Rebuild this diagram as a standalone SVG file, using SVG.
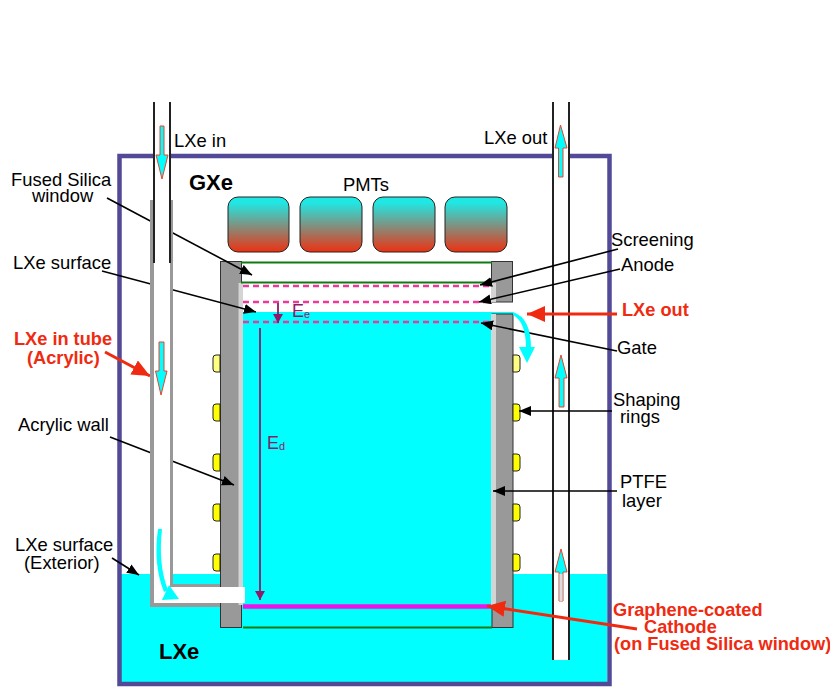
<svg xmlns="http://www.w3.org/2000/svg" width="830" height="690" viewBox="0 0 830 690">
<style>
text{font-family:"Liberation Sans",Arial,sans-serif;font-size:18.400px;fill:#000}
.b{font-weight:bold;font-size:22px}
.r{font-weight:bold;font-size:18.200px;fill:#f02a10}
.e{fill:#8e1a6a;font-size:18px}
.a{stroke:#000;stroke-width:1.600;fill:none;marker-end:url(#k)}
.ar{stroke:#f02a10;stroke-width:3;fill:none;marker-end:url(#rh)}
.g{fill:#999}
.w{fill:#999;stroke:#333;stroke-width:1}
.t{stroke:#222;stroke-width:2;fill:none}
.pm{fill:url(#pg);stroke:#222;stroke-width:1}
.d{stroke:#f0389a;stroke-width:2.500;stroke-dasharray:6 4;fill:none}
.gr{stroke:#0f7a10;stroke-width:2;fill:none}
.y{fill:#ff0;stroke:#222;stroke-width:1}
.ly{fill:#ffff80;stroke:#222;stroke-width:1}
.ba{fill:#0ff;stroke:#f0402a;stroke-width:1}
.m{stroke:#8e1a6a;stroke-width:1.800;fill:none}
</style>
<defs>
<marker id="k" markerWidth="14" markerHeight="12" refX="12" refY="5" orient="auto" markerUnits="userSpaceOnUse"><path d="M0 0L12 5L0 10Z" fill="#000"/></marker>
<marker id="rh" markerWidth="20" markerHeight="18" refX="18" refY="8" orient="auto" markerUnits="userSpaceOnUse"><path d="M0 0L18 8L0 16Z" fill="#f02a10"/></marker>
<marker id="mh" markerWidth="12" markerHeight="12" refX="9" refY="5" orient="auto" markerUnits="userSpaceOnUse"><path d="M0 0L9 5L0 10Z" fill="#8e1a6a"/></marker>
<linearGradient id="pg" x1="0" y1="0" x2="0" y2="1"><stop offset="0.1" stop-color="#1fe8e4"/><stop offset="1" stop-color="#ee3010"/></linearGradient>
</defs>
<g id="vessel">
<rect x="121" y="574" width="486" height="110" fill="#0ff"/>
<rect x="119.500" y="156" width="490" height="528" fill="none" stroke="#524a97" stroke-width="4.500"/>
</g>
<g id="detector">
<rect x="243" y="312" width="248" height="294" fill="#0ff"/>
<rect x="243" y="312" width="270" height="2" fill="#0ff"/>
<rect class="w" x="220.500" y="261.500" width="21" height="366"/>
<rect class="w" x="491.500" y="261.500" width="21" height="40.500"/>
<rect class="w" x="492" y="314" width="21" height="313.500"/>
<rect x="238.500" y="283" width="4.500" height="322" fill="#d4d4d4"/>
<rect x="491" y="283" width="5" height="19" fill="#d4d4d4"/>
<rect x="491" y="314" width="5" height="291" fill="#d4d4d4"/>
<path class="gr" d="M241 262.500H492M241 282.500H492M243 627.500H492"/>
<path d="M243 606.500H491" stroke="#f010e8" stroke-width="4.500" fill="none"/>
<path class="d" d="M243 286H491M243 302H491M243 322H491"/>
</g>
<g id="pmts">
<rect class="pm" x="228" y="197" width="61" height="55" rx="10"/>
<rect class="pm" x="300" y="197" width="62" height="55" rx="10"/>
<rect class="pm" x="373" y="197" width="62" height="55" rx="10"/>
<rect class="pm" x="445" y="197" width="62" height="55" rx="10"/>
</g>
<g id="rings">
<path class="ly" d="M220 355H216Q213 355 213 358V369Q213 372 216 372H220Z"/>
<path class="y" d="M220 404H216Q213 404 213 407V418Q213 421 216 421H220Z"/>
<path class="y" d="M220 454H216Q213 454 213 457V468Q213 471 216 471H220Z"/>
<path class="y" d="M220 504H216Q213 504 213 507V518Q213 521 216 521H220Z"/>
<path class="y" d="M220 554H216Q213 554 213 557V568Q213 571 216 571H220Z"/>
<path class="ly" d="M513 355H517Q520 355 520 358V369Q520 372 517 372H513Z"/>
<path class="y" d="M513 404H517Q520 404 520 407V418Q520 421 517 421H513Z"/>
<path class="y" d="M513 454H517Q520 454 520 457V468Q520 471 517 471H513Z"/>
<path class="y" d="M513 504H517Q520 504 520 507V518Q520 521 517 521H513Z"/>
<path class="y" d="M513 554H517Q520 554 520 557V568Q520 571 517 571H513Z"/>
</g>
<g id="right-tube">
<rect x="553" y="102" width="16" height="558" fill="#fff"/>
<path class="t" d="M553 102V660M569 102V660"/>
</g>
<g id="connectors">
<path class="a" d="M107 198L252 275"/>
<path class="a" d="M102 271L256 312"/>
<path class="a" d="M110 437L234 485"/>
<path class="a" d="M112 558L139 575"/>
<path class="ar" d="M105 352L150 376"/>
<path class="a" d="M618 249L480 285"/>
<path class="a" d="M620 269L479 302"/>
<path class="a" d="M617 351L481 323"/>
<path class="a" d="M612 411L519 411"/>
<path class="a" d="M617 491L493 491"/>
<path class="ar" d="M617 314L527 314"/>
<path class="ar" d="M637 629L487 606"/>
<path class="m" marker-end="url(#mh)" d="M278 303V323"/>
<path class="m" marker-end="url(#mh)" d="M260 328V600"/>
</g>
<g id="left-tube">
<rect x="154" y="102" width="16" height="485" fill="#fff"/>
<rect class="g" x="150" y="200" width="4" height="407"/>
<rect class="g" x="170" y="200" width="3" height="387"/>
<rect x="173" y="575" width="47" height="9" fill="#0ff"/>
<rect class="g" x="170" y="584" width="50" height="3"/>
<rect class="g" x="150" y="603" width="70" height="4"/>
<rect x="154" y="587" width="91" height="16" fill="#fff"/>
<path class="t" d="M154 102V263M170 102V263"/>
</g>
<g id="flow-arrows">
<path class="ba" d="M160 126H164V155H168L162 179L156 155H160Z"/>
<path class="ba" d="M159 342H164V371H167L161 395L155.500 371H159Z"/>
<path class="ba" d="M558.500 177H563V148H567L560.500 125L555 148H558.500Z"/>
<path class="ba" d="M559 407H564V378H567L561 355L555 378H559Z"/>
<path class="ba" d="M559 601H563V572H567L561 549L555 572H559Z"/>
<rect x="559.500" y="574" width="3" height="27" fill="#ddd"/>
<path d="M513 312Q531 318 531 348H526Q526 322 513 315Z" fill="#0ff"/>
<path d="M519 347H535L527 363Z" fill="#0ff"/>
<path d="M158 529H162Q158 565 168 590L164 592Q153 565 158 529Z" fill="#0ff"/>
<path d="M169 585L179 599L162 600Z" fill="#0ff"/>
</g>
<g id="labels">
<text x="174" y="147">LXe in</text>
<text x="484" y="144">LXe out</text>
<text class="b" x="189" y="190">GXe</text>
<text x="343" y="191">PMTs</text>
<text x="11" y="186">Fused Silica</text>
<text x="32" y="202">window</text>
<text x="13" y="269">LXe surface</text>
<text class="r" x="14" y="345">LXe in tube</text>
<text class="r" x="27" y="364">(Acrylic)</text>
<text x="18" y="431">Acrylic wall</text>
<text x="15" y="551">LXe surface</text>
<text x="24" y="569">(Exterior)</text>
<text class="b" x="159" y="659">LXe</text>
<text x="611" y="246">Screening</text>
<text x="621" y="271">Anode</text>
<text class="r" x="622" y="316">LXe out</text>
<text x="617" y="354">Gate</text>
<text x="613" y="406">Shaping</text>
<text x="620" y="423">rings</text>
<text x="620" y="488">PTFE</text>
<text x="622" y="507">layer</text>
<text class="r" x="613" y="616">Graphene-coated</text>
<text class="r" x="644" y="633">Cathode</text>
<text class="r" x="614" y="650">(on Fused Silica window)</text>
<text class="e" x="292" y="317">E<tspan font-size="11" dy="1">e</tspan></text>
<text class="e" x="267" y="449">E<tspan font-size="11" dy="1">d</tspan></text>
</g>
</svg>
